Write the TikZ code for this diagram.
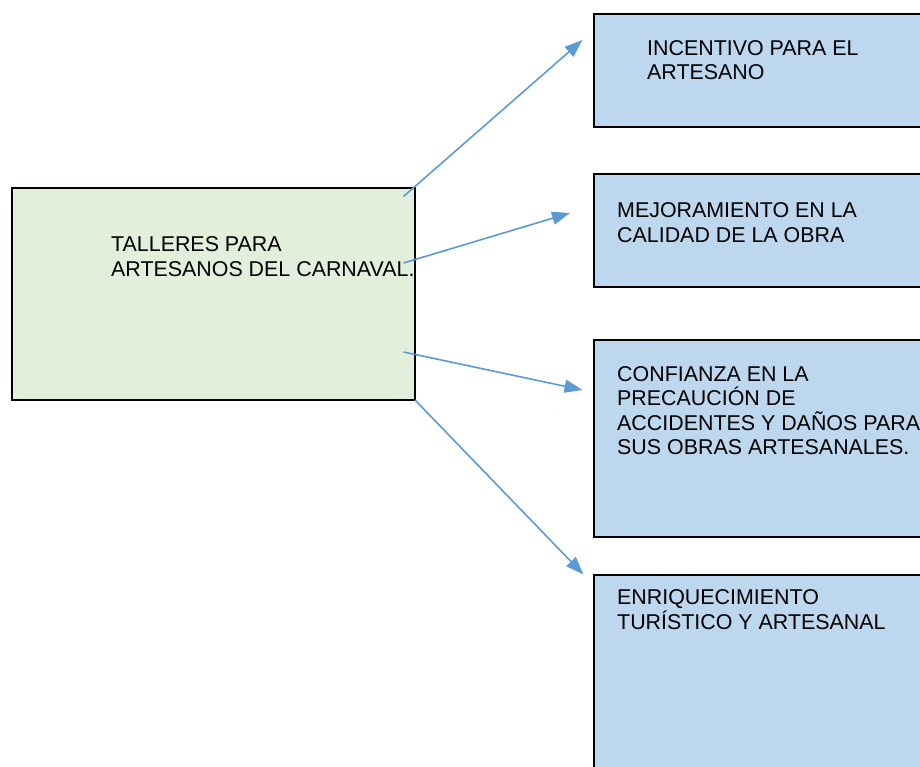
\documentclass[tikz,border=0pt]{standalone}
\usepackage{fontspec}
\setmainfont{Liberation Sans}
\usetikzlibrary{arrows.meta}
\definecolor{greenfill}{HTML}{E2EFDA}
\definecolor{bluefill}{HTML}{BDD7EE}
\definecolor{arrowblue}{HTML}{5B9BD5}
\begin{document}
\begin{tikzpicture}[x=1pt,y=-1pt,
  greenbox/.style={draw=black, line width=2pt, fill=greenfill},
  bluebox/.style={draw=black, line width=2pt, fill=bluefill},
  boxtext/.style={anchor=north west, inner sep=0pt, align=left, font=\fontsize{21.4}{24.6}\selectfont},
  conn/.style={draw=arrowblue, line width=1.6pt, -{Triangle[length=18pt,width=13pt]}}]
\useasboundingbox (0,0) rectangle (920,766);
% boxes
\draw[greenbox] (12,187.5) rectangle (415,400) coordinate (mainbr);
\node[boxtext] (tmain) at (111,236.5) {TALLERES PARA\\ARTESANOS DEL CARNAVAL.};
\draw[bluebox] (594,13.5) rectangle (940,127);
\node[boxtext] (t1) at (647,40) {INCENTIVO PARA EL\\ARTESANO};
\draw[bluebox] (594,173.5) rectangle (940,286.5);
\node[boxtext] (t2) at (617,202.5) {MEJORAMIENTO EN LA\\CALIDAD DE LA OBRA};
\draw[bluebox] (594,340) rectangle (940,537);
\node[boxtext] (t3) at (617,366) {CONFIANZA EN LA\\PRECAUCIÓN DE\\ACCIDENTES Y DAÑOS PARA\\SUS OBRAS ARTESANALES.};
\draw[bluebox] (594,574.5) rectangle (940,790);
\node[boxtext] (t4) at (617,589.5) {ENRIQUECIMIENTO\\TURÍSTICO Y ARTESANAL};
% connector end points
\coordinate (s1) at (403.5,196.5);
\coordinate (e1) at (582.5,40);
\coordinate (s2) at (403.5,263);
\coordinate (e2) at (570,213);
\coordinate (s3) at (403.5,352);
\coordinate (e3) at (582.5,390);
\coordinate (e4) at (583.5,574.5);
\draw[conn] (s1) -- (e1);
\draw[conn] (s2) -- (e2);
\draw[conn] (s3) -- (e3);
\draw[conn] (mainbr) -- (e4);
\end{tikzpicture}
\end{document}
